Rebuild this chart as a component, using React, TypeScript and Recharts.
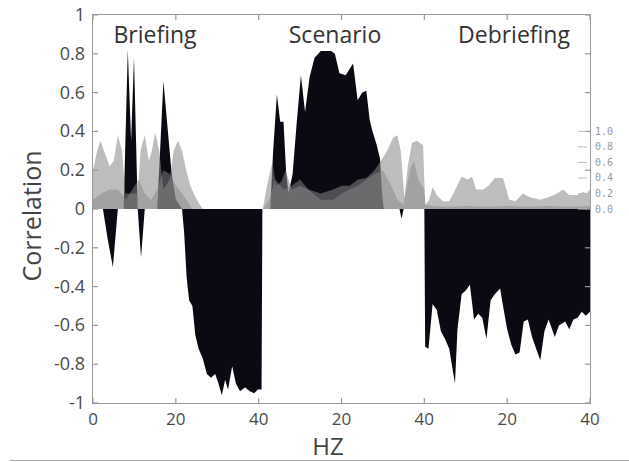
import { Area, AreaChart, XAxis, YAxis } from "recharts";

// correlation (black), x runs 0-120 = three 0-40 Hz blocks side by side
const corrX = [
  0, 2.4, 3.5, 4.8, 6, 7.4, 8.4, 9.2, 9.9, 10.8, 11.6, 12.5, 15.5, 16.2, 17, 18, 19, 20, 21.5,
  22, 22.6, 23.2, 24, 24.7, 25.5, 26.5, 27.5, 28.5, 29.5, 30.3, 31.1, 31.9, 32.6, 33.6, 34.5,
  35.5, 36.7, 37.9, 38.9, 39.8, 40.7, 40.9,
  42.8, 43.5, 44.4, 45.2, 46, 46.6, 47.2, 48.2, 49.2, 50.2, 51.2, 52.3, 53.5, 55, 57.5, 58.4,
  59.5, 61, 62.8, 63.9, 65, 66, 66.8, 67.5, 68.5, 69.3, 69.8, 70.2, 74, 74.5, 75, 80,
  80.2, 81, 82, 83, 84, 85, 86, 87.4, 88, 89, 90, 91, 92, 93, 94, 95, 96, 97, 98.3, 99, 100,
  101, 102, 103, 104, 105, 106, 107, 108, 109, 110, 111.5, 112.5, 114, 115, 116, 117, 118,
  119, 120,
];
const corrY = [
  0, 0, -0.15, -0.3, 0, 0, 0.82, 0.35, 0.78, 0, -0.25, 0, 0, 0.3, 0.66, 0.42, 0.18, 0.05, 0,
  -0.12, -0.35, -0.47, -0.5, -0.65, -0.72, -0.77, -0.85, -0.87, -0.85, -0.9, -0.96, -0.88, -0.93, -0.81, -0.9,
  -0.94, -0.92, -0.94, -0.95, -0.93, -0.93, 0,
  0, 0.3, 0.59, 0.45, 0.45, 0.2, 0.08, 0.18, 0.45, 0.69, 0.5, 0.68, 0.78, 0.815, 0.815, 0.8,
  0.7, 0.69, 0.75, 0.56, 0.6, 0.61, 0.46, 0.4, 0.33, 0.26, 0.08, 0, 0, -0.05, 0, 0,
  -0.71, -0.72, -0.49, -0.52, -0.63, -0.67, -0.72, -0.9, -0.62, -0.44, -0.42, -0.39, -0.57, -0.54, -0.56, -0.67, -0.47, -0.44, -0.41, -0.5, -0.62,
  -0.7, -0.75, -0.74, -0.58, -0.57, -0.66, -0.72, -0.78, -0.63, -0.57, -0.66, -0.6, -0.58, -0.62, -0.57, -0.56, -0.53,
  -0.55, -0.53,
];

// grey overlays, read on the small right-hand 0-1 scale
const grayAX = [
  0, 1, 1.8, 3, 4, 5, 6, 7, 7.8, 10.8, 11.5, 12.5, 13.5, 14.2, 15, 16, 17, 18.5, 19.5, 20.5,
  21.5, 22.5, 23.5, 24.5, 25.5, 26.5,
  41, 42, 43.3, 44.2, 45.5, 46.5, 48, 50, 52, 55, 58, 60, 62, 64, 66, 68, 69.5, 71, 72.5, 73.5,
  74.3, 75.2, 76, 77, 78.2, 79.7, 80.2,
  81.2, 82, 83, 84.5, 86, 87.5, 89, 90.5, 91.5, 92.5, 94.2, 95.5, 97, 99, 100.5, 102, 103.8,
  105.5, 108, 110, 112, 113.5, 115, 117, 118.3, 119.2, 120,
];
const grayAY = [
  0.5, 0.75, 0.88, 0.7, 0.55, 0.62, 0.95, 0.75, 0.2, 0.2, 0.75, 0.95, 0.62, 0.75, 0.98, 0.75, 0.25, 0.38, 0.75, 0.88,
  0.75, 0.5, 0.3, 0.18, 0.08, 0,
  0, 0.3, 0.6, 0.3, 0.35, 0.5, 0.25, 0.3, 0.25, 0.2, 0.25, 0.3, 0.3, 0.38, 0.4, 0.5, 0.62, 0.75, 0.92, 0.95,
  0.75, 0.15, 0.55, 0.85, 0.88, 0.82, 0.05,
  0.12, 0.28, 0.18, 0.1, 0.1, 0.25, 0.42, 0.38, 0.42, 0.25, 0.25, 0.3, 0.4, 0.4, 0.12, 0.1, 0.2,
  0.15, 0.12, 0.15, 0.2, 0.25, 0.18, 0.18, 0.22, 0.2, 0.25,
];
const grayBX = [
  0, 2, 4, 6, 8, 9.5, 11, 12.5, 14, 15.5, 17, 18.5, 20, 21.5, 23, 24,
  41, 42.5, 44, 46, 48, 50, 52, 55, 58, 60, 62, 64, 66, 68, 70, 72, 73.5, 75, 76.5, 77.5, 78.5, 80, 80.3,
  82, 86, 90, 95, 100, 105, 110, 115, 120,
];
const grayBY = [
  0.12, 0.2, 0.25, 0.25, 0.12, 0.25, 0.38, 0.2, 0.12, 0.25, 0.5, 0.45, 0.3, 0.2, 0.08, 0,
  0, 0.12, 0.38, 0.25, 0.3, 0.38, 0.25, 0.12, 0.12, 0.2, 0.25, 0.3, 0.38, 0.45, 0.5, 0.3, 0.12, 0.05, 0.5, 0.62, 0.38, 0.25, 0.05,
  0.04, 0.03, 0.04, 0.03, 0.04, 0.03, 0.04, 0.03, 0.04,
];

const xTicks = [0, 20, 40, 60, 80, 100, 120];
const xTickLabels = ["0", "20", "40", "20", "40", "20", "40"];
const yTicks = [-1, -0.8, -0.6, -0.4, -0.2, 0, 0.2, 0.4, 0.6, 0.8, 1];
const yTickLabels = ["-1", "-0.8", "-0.6", "-0.4", "-0.2", "0", "0.2", "0.4", "0.6", "0.8", "1"];
const grayTicks = [0, 0.2, 0.4, 0.6, 0.8, 1];
const grayTickLabels = ["0.0", "0.2", "0.4", "0.6", "0.8", "1.0"];
const sections = ["Briefing", "Scenario", "Debriefing"];

const corrData = corrX.map((x, i) => ({ x, y: corrY[i] }));
const grayAData = grayAX.map((x, i) => ({ x, g: grayAY[i] }));
const grayBData = grayBX.map((x, i) => ({ x, g: grayBY[i] }));

// plot box (matches chart margin + axis sizes below)
const W = 629;
const H = 462;
const TOP = 15;
const LEFT_W = 93;
const RIGHT_W = 39;
const BOTTOM_H = 59;
const PLOT_W = W - LEFT_W - RIGHT_W;
const PLOT_H = H - TOP - BOTTOM_H;

const frame = "#9a9a9a";
const font = "'Open Sans', sans-serif";

// left ticks are mirrored on the right edge of the box
const LeftTick = ({ x, y, payload }: any) => (
  <g>
    <line x1={x} x2={x + 5} y1={y} y2={y} stroke={frame} strokeWidth={1.2} />
    <line x1={x + PLOT_W - 5} x2={x + PLOT_W} y1={y} y2={y} stroke={frame} strokeWidth={1.2} />
    <text x={x - 8} y={y + 6} textAnchor="end" fontSize={18} fill="#4a4a4a" fontFamily={font}>
      {yTickLabels[yTicks.indexOf(payload.value)]}
    </text>
  </g>
);

const GrayTick = ({ x, y, payload }: any) => (
  <g>
    <line x1={x - 12} x2={x - 3} y1={y} y2={y} stroke="#bbb" strokeWidth={1} />
    <text x={x + 5} y={y + 3.5} fontSize={10} fill="#999" fontFamily="'DejaVu Sans Mono', monospace">
      {grayTickLabels[grayTicks.indexOf(payload.value)]}
    </text>
  </g>
);

// bottom ticks, mirrored on the top edge
const BottomTick = ({ x, y, payload }: any) => (
  <g>
    <line x1={x} x2={x} y1={y - 5} y2={y} stroke={frame} strokeWidth={1.2} />
    <line x1={x} x2={x} y1={y - PLOT_H} y2={y - PLOT_H + 5} stroke={frame} strokeWidth={1.2} />
    <text x={x} y={y + 22} textAnchor="middle" fontSize={17} fill="#4a4a4a" fontFamily={font}>
      {xTickLabels[xTicks.indexOf(payload.value)]}
    </text>
  </g>
);

export default function App() {
  return (
    <div style={{ position: "absolute", left: 0, top: 0, width: W, height: H, background: "#fff" }}>
      <AreaChart width={W} height={H} margin={{ top: TOP, right: 0, bottom: 0, left: 0 }}>
        <XAxis
          dataKey="x"
          type="number"
          domain={[0, 120]}
          ticks={xTicks}
          interval={0}
          height={BOTTOM_H}
          tickSize={0}
          tickMargin={0}
          tick={<BottomTick />}
          axisLine={false}
        />
        <YAxis
          yAxisId="left"
          domain={[-1, 1]}
          ticks={yTicks}
          interval={0}
          width={LEFT_W}
          tickSize={0}
          tickMargin={0}
          tick={<LeftTick />}
          axisLine={false}
        />
        <YAxis
          yAxisId="gray"
          orientation="right"
          domain={[-2.5, 2.5]}
          ticks={grayTicks}
          interval={0}
          width={RIGHT_W}
          tickSize={0}
          tickMargin={0}
          tick={<GrayTick />}
          axisLine={false}
        />
        <Area
          yAxisId="left"
          data={corrData}
          dataKey="y"
          type="linear"
          stroke="none"
          fill="#0a0a12"
          fillOpacity={1}
          isAnimationActive={false}
        />
        <Area
          yAxisId="gray"
          data={grayAData}
          dataKey="g"
          type="linear"
          stroke="none"
          fill="#878787"
          fillOpacity={0.55}
          isAnimationActive={false}
        />
        <Area
          yAxisId="gray"
          data={grayBData}
          dataKey="g"
          type="linear"
          stroke="none"
          fill="#878787"
          fillOpacity={0.5}
          isAnimationActive={false}
        />
      </AreaChart>
      <div
        style={{
          position: "absolute",
          left: LEFT_W - 0.75,
          top: TOP - 0.75,
          width: PLOT_W + 1.5,
          height: PLOT_H + 1.5,
          boxSizing: "border-box",
          border: `1.5px solid ${frame}`,
          pointerEvents: "none",
        }}
      />
      {sections.map((s, i) => (
        <div
          key={s}
          style={{
            position: "absolute",
            top: 18,
            left: [155, 335, 514][i],
            transform: "translateX(-50%)",
            fontFamily: font,
            fontSize: 23,
            color: "#333",
            whiteSpace: "nowrap",
          }}
        >
          {s}
        </div>
      ))}
      <div
        style={{
          position: "absolute",
          left: 31,
          top: 216,
          transform: "translate(-50%, -50%) rotate(-90deg)",
          fontFamily: font,
          fontSize: 25,
          color: "#444",
          whiteSpace: "nowrap",
        }}
      >
        Correlation
      </div>
      <div
        style={{
          position: "absolute",
          left: 328,
          top: 446,
          transform: "translate(-50%, -50%)",
          fontFamily: font,
          fontSize: 24,
          lineHeight: "20px",
          color: "#444",
        }}
      >
        HZ
      </div>
      <div style={{ position: "absolute", left: 10, top: 460, width: 619, height: 1, background: "#aaa" }} />
    </div>
  );
}
